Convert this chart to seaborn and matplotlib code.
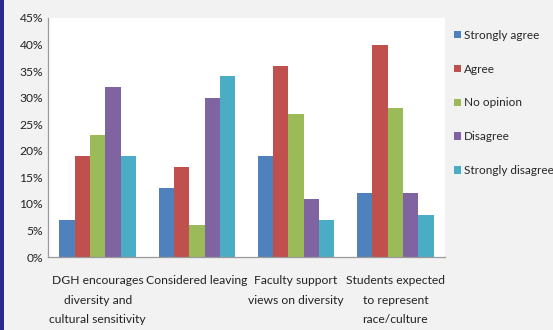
import matplotlib
matplotlib.use("Agg")
import matplotlib.pyplot as plt
import seaborn as sns
import pandas as pd
from matplotlib.patches import Rectangle
from matplotlib.ticker import FuncFormatter

categories = ["DGH encourages\ndiversity and\ncultural sensitivity",
              "Considered leaving",
              "Faculty support\nviews on diversity",
              "Students expected\nto represent\nrace/culture"]
series = ["Strongly agree", "Agree", "No opinion", "Disagree", "Strongly disagree"]
strongly_agree = [7, 13, 19, 12]
agree = [19, 17, 36, 40]
no_opinion = [23, 6, 27, 28]
disagree = [32, 30, 11, 12]
strongly_disagree = [19, 34, 7, 8]
colors = ["#4F81BD", "#C0504D", "#9BBB59", "#8064A2", "#4BACC6"]
yticks = [0, 5, 10, 15, 20, 25, 30, 35, 40, 45]

values = [strongly_agree, agree, no_opinion, disagree, strongly_disagree]
rows = []
for s, vals in zip(series, values):
    for c, v in zip(categories, vals):
        rows.append({"category": c, "series": s, "value": v})
df = pd.DataFrame(rows)

sns.set_theme(style="white")
plt.rcParams["font.family"] = ["Lato", "DejaVu Sans"]

fig = plt.figure(figsize=(5.53, 3.3), dpi=100)
fig.patch.set_facecolor("#f2f2f2")
ax = fig.add_axes([48/553, 1-257/330, (445-48)/553, (257-18)/330])
ax.set_facecolor("white")

sns.barplot(data=df, x="category", y="value", hue="series", order=categories,
            hue_order=series, palette=colors, width=0.77, gap=0, saturation=1,
            linewidth=0, ax=ax, legend=True)

ax.set_ylim(0, 45)
ax.set_yticks(yticks)
ax.yaxis.set_major_formatter(FuncFormatter(lambda v, p: f"{int(v)}%"))
ax.set_xlabel("")
ax.set_ylabel("")
ax.tick_params(axis="both", length=0, labelsize=8.7, colors="#222222")
ax.tick_params(axis="x", pad=13)
for lbl in ax.get_xticklabels():
    lbl.set_linespacing(1.95)
for sp in ["top", "right"]:
    ax.spines[sp].set_visible(False)
for sp in ["left", "bottom"]:
    ax.spines[sp].set_color("#9a9a9a")
    ax.spines[sp].set_linewidth(0.9)

handles, labels = ax.get_legend_handles_labels()
ax.legend(handles, labels, loc="upper left", bbox_to_anchor=(1.01, 0.97),
          frameon=False, fontsize=8.5, handlelength=0.6, handleheight=0.6,
          handletextpad=0.3, labelspacing=1.93, borderaxespad=0)

fig.add_artist(Rectangle((0, 0), 4/553, 1, transform=fig.transFigure,
                         facecolor="#2a2a8c", edgecolor="none"))

fig.savefig("out.png", dpi=100, facecolor=fig.get_facecolor())
